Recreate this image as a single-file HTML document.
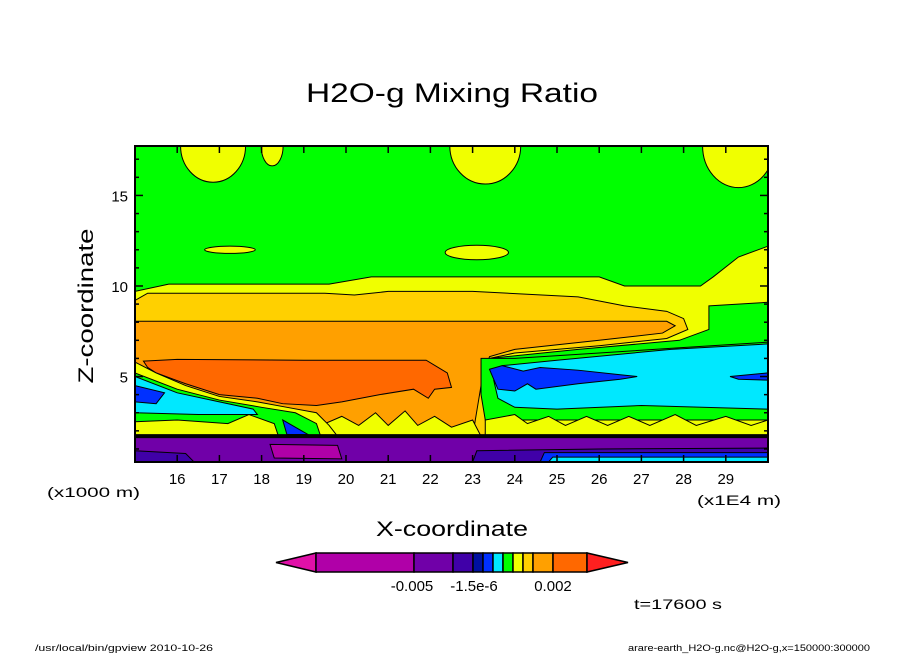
<!DOCTYPE html>
<html><head><meta charset="utf-8">
<style>
html,body{margin:0;padding:0;background:#fff;}
svg{display:block;font-family:"Liberation Sans",sans-serif;}
</style></head>
<body>
<svg id="chart" width="904" height="654" viewBox="0 0 904 654">
<text x="452" y="102" text-anchor="middle" font-size="27" textLength="292" lengthAdjust="spacingAndGlyphs">H2O-g Mixing Ratio</text>
<g id="field"></g>
<g id="axes"></g>
<g id="cbar"></g>
<text x="452" y="536" text-anchor="middle" font-size="21" textLength="152" lengthAdjust="spacingAndGlyphs">X-coordinate</text>
<text transform="translate(93,306) rotate(-90)" text-anchor="middle" font-size="21" textLength="155" lengthAdjust="spacingAndGlyphs">Z-coordinate</text>
<text x="47" y="497" font-size="14" textLength="93" lengthAdjust="spacingAndGlyphs">(x1000 m)</text>
<text x="697" y="505" font-size="14" textLength="84" lengthAdjust="spacingAndGlyphs">(x1E4 m)</text>
<text x="634" y="609" font-size="14" textLength="88" lengthAdjust="spacingAndGlyphs">t=17600 s</text>
<text x="35" y="651" font-size="9" textLength="178" lengthAdjust="spacingAndGlyphs">/usr/local/bin/gpview  2010-10-26</text>
<text x="628" y="651" font-size="9" textLength="242" lengthAdjust="spacingAndGlyphs">arare-earth_H2O-g.nc@H2O-g,x=150000:300000</text>
</svg>
<script>
// axis ranges and ticks
const xDomain = [15, 30];
const zDomain = [0.28, 17.73];
const xTicks = [16,17,18,19,20,21,22,23,24,25,26,27,28,29];
const zTicks = [5,10,15];
// colorbar
const cbColors = ["#b000a8","#7000a8","#4000a8","#0010a0","#0030ff","#00e8ff","#00ff00","#f0ff00","#ffd000","#ffa000","#ff6800"];
const cbWidths = [98,39,20,10,10,10,10,10,10,20,34];
const cbLabels = ["-0.005","-1.5e-6","0.002"];
// contour regions (data coords: x in 1E4 m, z in 1000 m)
const yellowTop = [[15,0],[15,9.7],[15.8,10.1],[19.6,10.1],[20.6,10.5],[26.0,10.5],[26.6,10.0],[28.4,10.0],[28.7,10.5],[29.3,11.6],[30,12.2],[30,0]];
const greenRight = [[28.6,8.9],[30,9.1],[30,6.6],[27.5,6.3],[25,5.9],[23.4,5.5],[23.4,6.0],[25.5,6.5],[27.9,7.0],[28.6,7.6]];
const goldRegion = [[15,1.7],[15,9.2],[15.3,9.6],[19.5,9.6],[20.2,9.5],[21,9.7],[23,9.7],[25.5,9.4],[26.6,8.9],[27.6,8.6],[28.0,8.2],[28.1,7.6],[27.6,7.1],[26,6.7],[24,6.3],[23.4,6.0],[23.3,1.7]];
const orangeRegion = [[15,1.7],[15,8.05],[27.6,8.05],[27.8,7.8],[27.5,7.4],[26,7.0],[24,6.5],[23.4,6.1],[23.2,4.5],[23.0,1.7]];
const greenLowRight = [[23.2,6.0],[24,6.0],[26,6.3],[28,6.6],[30,6.9],[30,2.6],[23.3,2.6],[23.2,4]];
const cyanRight = [[23.7,5.6],[25,5.9],[27.7,6.5],[30,6.8],[30,3.2],[27,3.4],[25,3.2],[24,3.3],[23.6,3.8],[23.5,4.8]];
const blueStreak = [[23.4,5.4],[23.7,5.6],[24.2,5.3],[24.6,5.5],[25.5,5.35],[26.5,5.1],[26.9,5.0],[26.5,4.85],[25.5,4.6],[24.5,4.3],[24.3,4.6],[24.0,4.2],[23.6,4.3]];
const blueRight = [[29.1,5.0],[30,5.2],[30,4.8],[29.3,4.85]];
const yellowLowRight = [[23.3,1.7],[23.3,2.6],[24,2.9],[24.3,2.4],[24.8,2.8],[25.2,2.3],[25.7,2.8],[26.2,2.3],[26.7,2.8],[27.2,2.3],[27.8,2.9],[28.3,2.3],[29,2.8],[29.6,2.3],[30,2.6],[30,1.7]];
const yellowMid = [[19.3,1.7],[19.5,2.4],[19.9,2.8],[20.3,2.3],[20.7,3.0],[21.0,2.3],[21.4,3.1],[21.7,2.3],[22.1,2.8],[22.5,2.2],[23.0,2.6],[23.2,1.7]];
const darkOrange = [[15.2,5.85],[16,5.95],[19,5.9],[21.9,5.9],[22.4,5.2],[22.5,4.4],[22.1,4.3],[21.95,3.8],[21.6,4.3],[20.8,4.0],[19.9,3.6],[19.3,3.4],[18.5,3.5],[17.9,3.8],[17.0,4.0],[16.2,4.6],[15.5,5.2],[15.3,5.5]];
const leftStripes = [[15,5.8],[15.5,5.2],[16.2,4.5],[17.0,3.9],[17.9,3.6],[18.6,3.3],[19.3,3.0],[19.6,2.3],[19.8,1.7],[15,1.7]];
const leftGreen = [[15,5.2],[16,4.3],[17,3.7],[18,3.3],[18.8,3.0],[19.3,2.4],[19.4,1.7],[15,1.7]];
const leftCyan = [[15,5.0],[16,4.1],[17,3.6],[17.8,3.2],[17.9,2.9],[16.5,2.9],[15,3.0]];
const leftBlue = [[15,4.5],[15.7,4.1],[15.5,3.5],[15,3.6]];
const leftYellow = [[15,1.7],[15,2.5],[16,2.6],[17.2,2.4],[17.7,2.9],[18.3,2.4],[18.4,1.7]];
const lowBlue = [[18.5,2.6],[19.1,1.8],[18.6,1.8]];
const purpleBand = [[15,0.28],[15,1.71],[30,1.71],[30,0.28]];
const magentaPatch = [[18.2,1.25],[19.8,1.2],[19.9,0.45],[18.3,0.5]];
const indigoLeft = [[15,0.28],[15,0.9],[16.2,0.75],[16.4,0.28]];
const indigoRight = [[23,0.28],[23.1,0.9],[26,1.0],[30,1.05],[30,0.28]];
const blueBottom = [[24.6,0.28],[24.7,0.8],[30,0.8],[30,0.28]];
const cyanBottom = [[24.8,0.28],[24.9,0.55],[30,0.55],[30,0.28]];
const blobs = [[16.85,17.73,0.77,2.0],[18.25,17.73,0.26,1.1],[23.3,17.73,0.84,2.1],[29.3,17.73,0.85,2.3],[17.25,12.0,0.6,0.2],[23.1,11.85,0.75,0.4]];

const L=135,R=768,T=146,B=462;
const sx = v => L + (v-xDomain[0])/(xDomain[1]-xDomain[0])*(R-L);
const sz = v => B - (v-zDomain[0])/(zDomain[1]-zDomain[0])*(B-T);
const NS="http://www.w3.org/2000/svg";
const field=document.getElementById('field');
const axes=document.getElementById('axes');
const cbar=document.getElementById('cbar');
function mk(tag,attrs,parent){const e=document.createElementNS(NS,tag);for(const k in attrs)e.setAttribute(k,attrs[k]);parent.appendChild(e);return e;}

const clip=mk('clipPath',{id:'pc'},field);
mk('rect',{x:L,y:T,width:R-L,height:B-T},clip);
const g=mk('g',{'clip-path':'url(#pc)'},field);
const bg=mk('rect',{x:L,y:T,width:R-L,height:B-T,fill:'#00ff00'},g);



const regions=[
 [yellowTop,'#f0ff00','yellow-region'],[greenRight,'#00ff00','green-right-region'],
 [goldRegion,'#ffd000','gold-region'],[orangeRegion,'#ffa000','orange-region'],
 [greenLowRight,'#00ff00','green-low-right'],[cyanRight,'#00e8ff','cyan-right'],
 [blueStreak,'#0030ff','blue-streak'],[blueRight,'#0030ff','blue-right'],
 [yellowLowRight,'#f0ff00','yellow-low-right'],[yellowMid,'#f0ff00','yellow-mid'],
 [darkOrange,'#ff6800','dark-orange-core'],[leftStripes,'#f0ff00','left-stripes'],
 [leftGreen,'#00ff00','left-green'],[leftCyan,'#00e8ff','left-cyan'],[leftBlue,'#0030ff','left-blue'],
 [leftYellow,'#f0ff00','left-yellow'],[lowBlue,'#0030ff','low-blue'],
 [purpleBand,'#7000a8','purple-band'],[magentaPatch,'#b000a8','magenta-patch'],
 [indigoLeft,'#4000a8','indigo-left'],[indigoRight,'#4000a8','indigo-right'],
 [blueBottom,'#0030ff','blue-bottom'],[cyanBottom,'#00e8ff','cyan-bottom']
];
regions.forEach(([pts,col,name])=>{
 const p=mk('polygon',{points:pts.map(q=>sx(q[0])+','+sz(q[1])).join(' '),fill:col,stroke:'#000','stroke-width':1},g);
 
 
});
blobs.forEach((b,i)=>{
 const e=mk('ellipse',{cx:sx(b[0]),cy:sz(b[1]),rx:sx(b[0]+b[2])-sx(b[0]),ry:sz(b[1]-b[3])-sz(b[1]),fill:'#f0ff00',stroke:'#000','stroke-width':1},g);
 
 
});
const gl=mk('line',{x1:L,x2:R,y1:sz(1.71),y2:sz(1.71),stroke:'#000','stroke-width':4},g);



const fr=mk('rect',{x:L,y:T,width:R-L,height:B-T,fill:'none',stroke:'#000','stroke-width':2},axes);


for(let v=15;v<=30;v+=1){
 mk('line',{x1:sx(v),x2:sx(v),y1:B,y2:B-7,stroke:'#000','stroke-width':1.5},axes);
 mk('line',{x1:sx(v),x2:sx(v),y1:T,y2:T+7,stroke:'#000','stroke-width':1.5},axes);
}
for(let v=1;v<=17;v++){
 const len=v%5===0?8:4;
 mk('line',{x1:L,x2:L+len,y1:sz(v),y2:sz(v),stroke:'#000','stroke-width':1.5},axes);
 mk('line',{x1:R,x2:R-len,y1:sz(v),y2:sz(v),stroke:'#000','stroke-width':1.5},axes);
}
xTicks.forEach(v=>{
 const t=mk('text',{x:sx(v),y:484,'text-anchor':'middle','font-size':15},axes);
 t.textContent=v;
 
 
});
zTicks.forEach(v=>{
 const t=mk('text',{x:128,y:sz(v)+6,'text-anchor':'end','font-size':15},axes);
 t.textContent=v;
 
 
});

// colorbar
const cy0=553,cy1=572,cx0=316;
const la=mk('polygon',{points:`276,${(cy0+cy1)/2} ${cx0},${cy0} ${cx0},${cy1}`,fill:'#e010a8',stroke:'#000','stroke-width':1.5},cbar);


let cx=cx0;
cbColors.forEach((c,i)=>{
 const r=mk('rect',{x:cx,y:cy0,width:cbWidths[i],height:cy1-cy0,fill:c,stroke:'#000','stroke-width':1.5},cbar);
 
 
 cx+=cbWidths[i];
});
const ra=mk('polygon',{points:`${cx},${cy0} ${cx},${cy1} 628,${(cy0+cy1)/2}`,fill:'#ff2020',stroke:'#000','stroke-width':1.5},cbar);


const lx=[412,474,553];
cbLabels.forEach((s,i)=>{
 const t=mk('text',{x:lx[i],y:591,'text-anchor':'middle','font-size':15},cbar);
 t.textContent=s;
 
 
});
</script>
</body></html>
